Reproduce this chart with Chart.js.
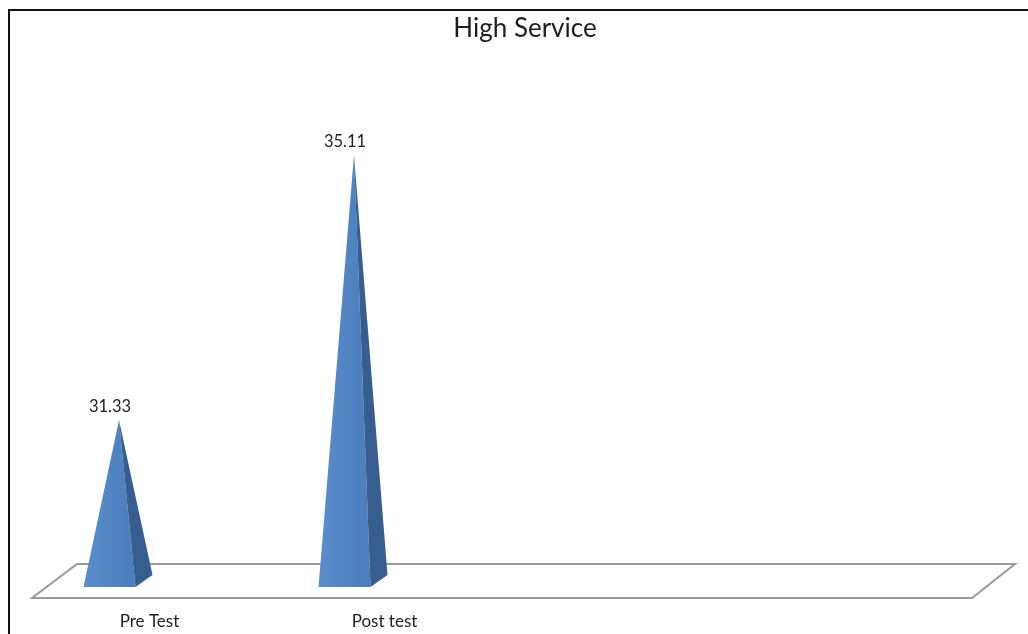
<!DOCTYPE html>
<html>
<head>
<meta charset="utf-8">
<script src="https://cdn.jsdelivr.net/npm/chart.js@4/dist/chart.umd.min.js"></script>
<style>
  html, body { margin: 0; padding: 0; background: #fff; overflow: hidden; }
  #wrap { position: relative; width: 1028px; height: 634px; }
  canvas { position: absolute; left: 0; top: 0; }
  #frame { position: absolute; left: 8px; top: 9px; width: 1100px; height: 700px;
           border-left: 2px solid #111; border-top: 2px solid #111; pointer-events: none; }
</style>
</head>
<body>
<div id="wrap">
  <canvas id="c" width="1028" height="634"></canvas>
  <div id="frame"></div>
</div>
<script>
// ---- data ----
const chartTitle = 'High Service';
const categories = ['Pre Test', 'Post test', '', ''];
const scores = [31.33, 35.11, null, null];
const valueLabels = ['31.33', '35.11', '', ''];
const yMin = 28.95;
const yMax = 36;

const FONT = "Lato, 'Open Sans', 'Liberation Sans', sans-serif";

const pyramidPlugin = {
  id: 'pyramids',
  beforeDatasetsDraw(chart) {
    const { ctx, chartArea } = chart;
    const b = chart.scales.y.getPixelForValue(yMin);
    // floor (3D base plane)
    ctx.save();
    ctx.strokeStyle = '#9a9a9a';
    ctx.lineWidth = 2;
    ctx.lineJoin = 'miter';
    ctx.beginPath();
    ctx.moveTo(chartArea.left, b + 11);
    ctx.lineTo(chartArea.right, b + 11);
    ctx.lineTo(chartArea.right + 43, b - 23);
    ctx.lineTo(chartArea.left + 45, b - 23);
    ctx.closePath();
    ctx.fillStyle = '#ffffff';
    ctx.fill();
    ctx.stroke();
    ctx.restore();
  },
  afterDatasetsDraw(chart) {
    const { ctx } = chart;
    const meta = chart.getDatasetMeta(0);
    const base = chart.scales.y.getPixelForValue(yMin);
    meta.data.forEach((bar, i) => {
      if (scores[i] == null) return;
      const p = bar.getProps(['x', 'y', 'width'], true);
      const cx = p.x - 40;           // front face centre (depth shift)
      const half = p.width / 2;
      const xl = cx - half, xr = cx + half;
      const ax = cx + 9.5, ay = p.y; // apex
      ctx.save();
      // front face
      const g = ctx.createLinearGradient(xl, 0, xr, 0);
      g.addColorStop(0, '#5a8dcc');
      g.addColorStop(1, '#4a7dbb');
      ctx.fillStyle = g;
      ctx.beginPath();
      ctx.moveTo(xl, base);
      ctx.lineTo(xr, base);
      ctx.lineTo(ax, ay);
      ctx.closePath();
      ctx.fill();
      // side face
      ctx.fillStyle = '#375e8e';
      ctx.beginPath();
      ctx.moveTo(xr, base);
      ctx.lineTo(xr + 17, base - 12);
      ctx.lineTo(ax, ay);
      ctx.closePath();
      ctx.fill();
      // value label
      ctx.fillStyle = '#1e1e1e';
      ctx.font = '16.5px ' + FONT;
      ctx.textAlign = 'center';
      ctx.textBaseline = 'middle';
      ctx.fillText(valueLabels[i], ax - 9, ay - 13.5);
      ctx.restore();
    });
  },
  afterDraw(chart) {
    const { ctx } = chart;
    ctx.save();
    ctx.fillStyle = '#1e1e1e';
    ctx.font = '26px ' + FONT;
    ctx.textAlign = 'center';
    ctx.textBaseline = 'middle';
    ctx.fillText(chartTitle, chart.width / 2 + 11, 29);
    ctx.restore();
  }
};

new Chart(document.getElementById('c'), {
  type: 'bar',
  data: {
    labels: categories,
    datasets: [{
      label: chartTitle,
      data: scores,
      backgroundColor: 'rgba(0,0,0,0)',
      borderWidth: 0,
      categoryPercentage: 1,
      barPercentage: 52 / 235
    }]
  },
  options: {
    responsive: false,
    animation: false,
    layout: { padding: { left: 32, right: 56, top: 93, bottom: 3 } },
    plugins: {
      legend: { display: false },
      tooltip: { enabled: false },
      title: { display: false }
    },
    scales: {
      x: {
        grid: { display: false, drawTicks: false },
        border: { display: false },
        ticks: { color: '#1e1e1e', font: { family: FONT, size: 17 }, padding: 24, maxRotation: 0 },
        afterFit(scale) { scale.height = 44; }
      },
      y: {
        display: false,
        min: yMin,
        max: yMax
      }
    }
  },
  plugins: [pyramidPlugin]
});
</script>
</body>
</html>
